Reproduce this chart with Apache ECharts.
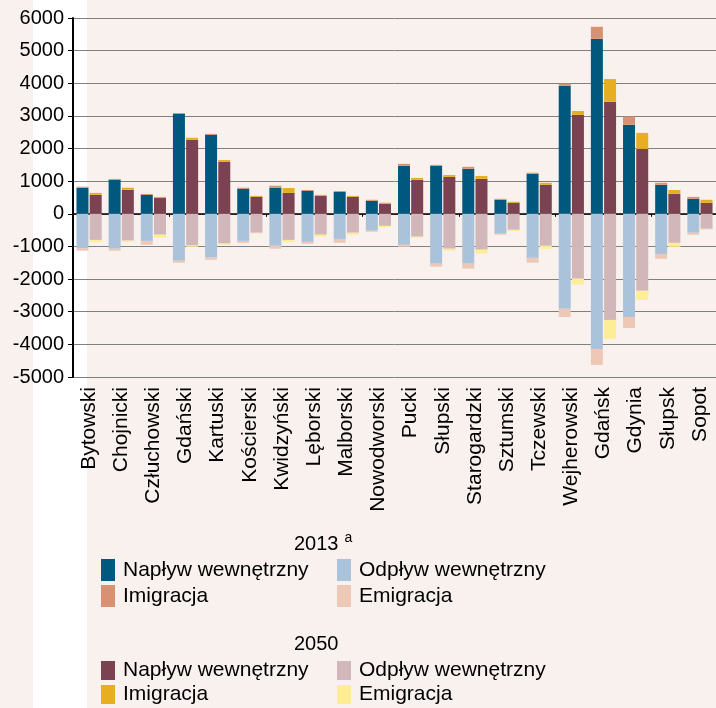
<!DOCTYPE html>
<html>
<head>
<meta charset="utf-8">
<script src="https://cdn.jsdelivr.net/npm/echarts@6/dist/echarts.min.js"></script>
<style>
  html, body { margin: 0; padding: 0; background: #f9f1ee; }
  #chart { width: 716px; height: 708px; }
</style>
</head>
<body>
<div id="chart"></div>
<script>
// powiaty / miasta na prawach powiatu
var categories = ['Bytowski', 'Chojnicki', 'Człuchowski', 'Gdański', 'Kartuski', 'Kościerski',
  'Kwidzyński', 'Lęborski', 'Malborski', 'Nowodworski', 'Pucki', 'Słupski', 'Starogardzki',
  'Sztumski', 'Tczewski', 'Wejherowski', 'Gdańsk', 'Gdynia', 'Słupsk', 'Sopot'];

// 2013
var inflow2013 = [800, 1040, 580, 3060, 2420, 770, 800, 700, 670, 400, 1470, 1470, 1380, 430, 1230, 3920, 5360, 2730, 890, 460];
var immig2013 = [30, 30, 30, 30, 30, 30, 60, 30, 30, 30, 60, 30, 60, 30, 30, 70, 370, 250, 60, 60];
var outflow2013 = [-1050, -1070, -830, -1440, -1340, -830, -980, -860, -770, -520, -950, -1530, -1530, -610, -1350, -2910, -4140, -3160, -1230, -580];
var emig2013 = [-80, -60, -120, -60, -70, -60, -90, -60, -120, -30, -60, -90, -150, -30, -150, -250, -490, -340, -150, -60];

// 2050
var inflow2050 = [580, 740, 490, 2270, 1590, 520, 640, 550, 520, 310, 1040, 1130, 1070, 340, 890, 3030, 3430, 1990, 610, 340];
var immig2050 = [60, 60, 30, 60, 60, 30, 150, 30, 30, 30, 60, 60, 90, 30, 60, 120, 700, 490, 120, 90];
var outflow2050 = [-800, -820, -640, -970, -910, -580, -800, -640, -580, -370, -700, -1070, -1100, -490, -980, -1990, -3250, -2360, -890, -460];
var emig2050 = [-60, -40, -90, -40, -40, -30, -60, -60, -60, -30, -30, -60, -120, -30, -90, -180, -580, -280, -120, -30];

var yTicks = [-5000, 6000, 1000]; // min, max, interval

var FONT = "'Liberation Sans', Arial, sans-serif";

function bar(name, stack, data, color) {
  return {
    name: name,
    type: 'bar',
    stack: stack,
    xAxisIndex: 0,
    barWidth: 12,
    barGap: '10%',
    data: data,
    itemStyle: { color: color },
    emphasis: { disabled: true }
  };
}

function legend(names, left, top, itemHeight, gap) {
  return {
    orient: 'vertical',
    left: left,
    top: top,
    padding: 0,
    itemWidth: 14,
    itemHeight: itemHeight,
    itemGap: gap,
    icon: 'rect',
    selectedMode: false,
    data: names,
    formatter: function (n) { return n.replace(/ \d{4}$/, ''); },
    textStyle: { fontFamily: FONT, fontSize: 21, color: '#000', padding: [0, 0, 0, 3] }
  };
}

var chart = echarts.init(document.getElementById('chart'));
chart.setOption({
  backgroundColor: '#f9f1ee',
  animation: false,
  graphic: [{
    type: 'rect',
    z: -10,
    silent: true,
    shape: { x: 33, y: 0, width: 54, height: 708 },
    style: { fill: '#ffffff' }
  }],
  title: [{
    left: 294,
    top: 531,
    padding: 0,
    text: '{y|2013}{s|a}',
    textStyle: {
      fontWeight: 'normal',
      rich: {
        y: { fontFamily: FONT, fontSize: 20, fontWeight: 'normal', color: '#000' },
        s: { fontFamily: FONT, fontSize: 14, fontWeight: 'normal', color: '#000', padding: [0, 0, 12, 6] }
      }
    }
  }, {
    left: 294,
    top: 634,
    padding: 0,
    text: '2050',
    textStyle: { fontFamily: FONT, fontSize: 20, fontWeight: 'normal', color: '#000' }
  }],
  legend: [
    legend(['Napływ wewnętrzny 2013', 'Imigracja 2013'], 101, 559, 22, 4),
    legend(['Odpływ wewnętrzny 2013', 'Emigracja 2013'], 337, 559, 22, 4),
    legend(['Napływ wewnętrzny 2050', 'Imigracja 2050'], 101, 660, 19, 3),
    legend(['Odpływ wewnętrzny 2050', 'Emigracja 2050'], 337, 660, 19, 3)
  ],
  grid: {
    left: 73,
    right: 0,
    top: 18,
    bottom: 331
  },
  xAxis: [{
    type: 'category',
    data: categories,
    axisLine: { show: false, onZero: false },
    axisTick: { show: false },
    axisLabel: {
      rotate: 90,
      margin: 10,
      interval: 0,
      fontFamily: FONT,
      fontSize: 21,
      color: '#000'
    }
  }, {
    type: 'category',
    data: categories,
    position: 'bottom',
    axisLine: { show: true, onZero: true, lineStyle: { color: '#000', width: 1.5 } },
    axisTick: { show: true, length: 3, lineStyle: { color: '#000' } },
    axisLabel: { show: false }
  }],
  yAxis: {
    type: 'value',
    min: yTicks[0],
    max: yTicks[1],
    interval: yTicks[2],
    axisLine: { show: true, lineStyle: { color: '#000', width: 2 } },
    axisTick: { show: true, length: 5, lineStyle: { color: '#000' } },
    axisLabel: {
      margin: 9,
      fontFamily: FONT,
      fontSize: 20,
      color: '#000',
      formatter: function (v) { return String(v); }
    },
    splitLine: { lineStyle: { color: '#808080', width: 1 } }
  },
  series: [
    bar('Napływ wewnętrzny 2013', 'y2013', inflow2013, '#00587f'),
    bar('Imigracja 2013', 'y2013', immig2013, '#d99174'),
    bar('Odpływ wewnętrzny 2013', 'y2013', outflow2013, '#abc3da'),
    bar('Emigracja 2013', 'y2013', emig2013, '#eec8b7'),
    bar('Napływ wewnętrzny 2050', 'y2050', inflow2050, '#7b4351'),
    bar('Imigracja 2050', 'y2050', immig2050, '#e8ae22'),
    bar('Odpływ wewnętrzny 2050', 'y2050', outflow2050, '#d1b7ba'),
    bar('Emigracja 2050', 'y2050', emig2050, '#fded94')
  ]
});
</script>
</body>
</html>
